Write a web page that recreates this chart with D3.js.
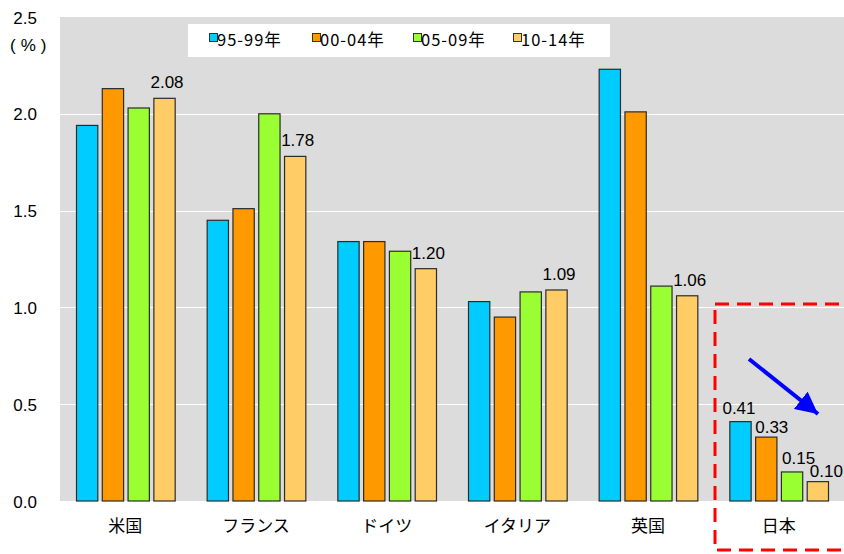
<!DOCTYPE html>
<html>
<head>
<meta charset="utf-8">
<script src="https://cdn.jsdelivr.net/npm/d3@7/dist/d3.min.js"></script>
<style>
  html, body { margin: 0; padding: 0; background: #fff; }
  svg { display: block; }
</style>
</head>
<body>
<svg id="chart" width="844" height="554"></svg>
<script>
// Countries and the four five-year periods
const countries = ["米国", "フランス", "ドイツ", "イタリア", "英国", "日本"];
const periods = ["95-99年", "00-04年", "05-09年", "10-14年"];
const periodColors = ["#00ccff", "#ff9900", "#99ff33", "#ffcc66"];

// Values (%) for each period, one entry per country
const v9599 = [1.94, 1.45, 1.34, 1.03, 2.23, 0.41];
const v0004 = [2.13, 1.51, 1.34, 0.95, 2.01, 0.33];
const v0509 = [2.03, 2.00, 1.29, 1.08, 1.11, 0.15];
const v1014 = [2.08, 1.78, 1.20, 1.09, 1.06, 0.10];

const yTicks = [0.0, 0.5, 1.0, 1.5, 2.0, 2.5];

const series = [v9599, v0004, v0509, v1014];

const svg = d3.select("#chart");
const plot = { left: 60, right: 844, top: 17, bottom: 501 };

const x0 = d3.scaleBand().domain(countries).range([plot.left, plot.right]).padding(0);
const x1 = d3.scaleBand().domain(d3.range(4)).range([16, x0.bandwidth() - 16]).paddingInner(0.174).paddingOuter(0);
const y = d3.scaleLinear().domain([0, 2.5]).range([plot.bottom, plot.top]);

// Plot background
svg.append("rect")
  .attr("x", plot.left).attr("y", plot.top)
  .attr("width", plot.right - plot.left).attr("height", plot.bottom - plot.top)
  .attr("fill", "#dcdcdc");

// Horizontal grid lines
svg.append("g").selectAll("line")
  .data(yTicks.filter(t => t > 0 && t < 2.5))
  .join("line")
  .attr("x1", plot.left).attr("x2", plot.right)
  .attr("y1", d => Math.round(y(d)) + 0.5).attr("y2", d => Math.round(y(d)) + 0.5)
  .attr("stroke", "#ffffff").attr("stroke-width", 1);

// Y axis labels
const yAxis = d3.axisLeft(y).tickValues(yTicks).tickFormat(d3.format(".1f")).tickSize(0).tickPadding(0);
const gy = svg.append("g").attr("transform", "translate(37,0)").call(yAxis);
gy.select(".domain").remove();
gy.selectAll("text")
  .attr("font-family", "'Liberation Sans', Arial, sans-serif")
  .attr("font-size", 17).attr("fill", "#000").attr("dy", "0.36em");

// Unit label
svg.append("text")
  .attr("x", 10).attr("y", 51)
  .attr("font-family", "'Liberation Sans', Arial, sans-serif")
  .attr("font-size", 17).attr("letter-spacing", 5).attr("fill", "#000")
  .text("(%)");

// Bars
const groups = svg.append("g").selectAll("g")
  .data(countries)
  .join("g")
  .attr("transform", d => `translate(${x0(d)},0)`);

groups.selectAll("rect")
  .data((c, ci) => series.map((s, si) => ({ si, v: s[ci] })))
  .join("rect")
  .attr("x", d => x1(d.si) + 0.5)
  .attr("y", d => y(d.v))
  .attr("width", x1.bandwidth())
  .attr("height", d => plot.bottom - y(d.v))
  .attr("fill", d => periodColors[d.si])
  .attr("stroke", "#2b2b2b").attr("stroke-width", 1.2);

// Value labels: last period for every country, all periods for Japan
const labelFont = "'Liberation Sans', Arial, sans-serif";
const lastIdx = 3;
countries.forEach((c, ci) => {
  if (c === "日本") return;
  const v = series[lastIdx][ci];
  svg.append("text")
    .attr("x", x0(c) + x1(lastIdx) + x1.bandwidth() / 2 + 3)
    .attr("y", y(v) - 10)
    .attr("text-anchor", "middle")
    .attr("font-family", labelFont).attr("font-size", 17).attr("fill", "#000")
    .text(v.toFixed(2));
});

const jp = countries.indexOf("日本");
const jpNudge = [[-1, -7.5], [6, -4], [7, -8], [9, -4.5]];
series.forEach((s, si) => {
  const v = s[jp];
  svg.append("text")
    .attr("x", x0("日本") + x1(si) + x1.bandwidth() / 2 + jpNudge[si][0])
    .attr("y", y(v) + jpNudge[si][1])
    .attr("text-anchor", "middle")
    .attr("font-family", labelFont).attr("font-size", 17).attr("fill", "#000")
    .text(v.toFixed(2));
});

// Category labels
svg.append("g").selectAll("text")
  .data(countries)
  .join("text")
  .attr("x", d => x0(d) + x0.bandwidth() / 2)
  .attr("y", 532)
  .attr("text-anchor", "middle")
  .attr("font-family", "'Noto Sans CJK JP', sans-serif")
  .attr("font-size", 17).attr("fill", "#000")
  .text(d => d);

// Legend
const legend = svg.append("g");
legend.append("rect")
  .attr("x", 188).attr("y", 24).attr("width", 422).attr("height", 33)
  .attr("fill", "#ffffff");
const legendX = [209, 312, 413, 513];
periods.forEach((p, i) => {
  legend.append("rect")
    .attr("x", legendX[i] + 0.5).attr("y", 33.5).attr("width", 8).attr("height", 8)
    .attr("fill", periodColors[i]).attr("stroke", "#333").attr("stroke-width", 1);
  legend.append("text")
    .attr("x", legendX[i] + 8).attr("y", 46)
    .attr("font-family", "'Noto Sans CJK JP', sans-serif")
    .attr("font-size", 16.5).attr("letter-spacing", 1).attr("fill", "#000")
    .text(p);
});

// Highlight box around Japan
svg.append("rect")
  .attr("x", 715).attr("y", 304).attr("width", 160).attr("height", 246)
  .attr("fill", "none").attr("stroke", "#ff0000").attr("stroke-width", 3)
  .attr("stroke-dasharray", "14,8");

// Downward trend arrow
const defs = svg.append("defs");
defs.append("marker")
  .attr("id", "arrowHead")
  .attr("viewBox", "0 0 10 10").attr("refX", 10).attr("refY", 5)
  .attr("markerWidth", 5.5).attr("markerHeight", 5.5)
  .attr("markerUnits", "strokeWidth")
  .attr("orient", "auto")
  .append("path").attr("d", "M0,0 L10,5 L0,10 Z").attr("fill", "#0000ff");
svg.append("line")
  .attr("x1", 749).attr("y1", 359).attr("x2", 818).attr("y2", 414)
  .attr("stroke", "#0000ff").attr("stroke-width", 4)
  .attr("marker-end", "url(#arrowHead)");
</script>
</body>
</html>
